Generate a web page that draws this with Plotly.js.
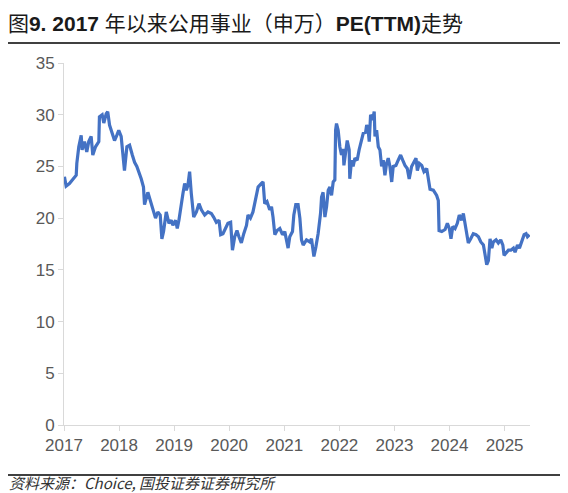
<!DOCTYPE html>
<html>
<head>
<meta charset="utf-8">
<script src="https://cdn.plot.ly/plotly-3.0.1.min.js"></script>
<style>
  html, body { margin: 0; padding: 0; background: #fff; }
  #chart { width: 568px; height: 493px; }
</style>
</head>
<body>
<div id="chart"></div>
<script>
// 公用事业（申万）PE(TTM)
const dates = [
  '2017-01-04','2017-01-15','2017-02-06','2017-02-28','2017-03-23','2017-03-27','2017-04-09','2017-04-25',
  '2017-05-01','2017-05-17','2017-06-01','2017-06-14','2017-06-30','2017-07-11','2017-07-29','2017-08-20',
  '2017-08-24','2017-09-11','2017-09-22','2017-10-08','2017-10-18','2017-10-30','2017-11-17','2017-12-02',
  '2017-12-17','2017-12-30','2018-01-15','2018-01-31','2018-02-06','2018-02-22','2018-03-12','2018-03-30',
  '2018-04-14','2018-04-29','2018-05-12','2018-05-28','2018-06-12','2018-06-19','2018-07-11','2018-08-03',
  '2018-08-18','2018-08-31','2018-09-15','2018-10-01','2018-10-12','2018-10-23','2018-11-10','2018-11-28',
  '2018-12-13','2018-12-24','2019-01-11','2019-01-22','2019-02-02','2019-02-18','2019-03-01','2019-03-12',
  '2019-03-23','2019-04-03','2019-04-14','2019-04-25','2019-05-11','2019-05-29','2019-06-15','2019-07-01',
  '2019-07-23','2019-08-14','2019-09-05','2019-09-20','2019-10-08','2019-10-26','2019-11-06','2019-11-21',
  '2019-12-02','2019-12-24','2020-01-11','2020-01-23','2020-02-07','2020-02-22','2020-03-06','2020-03-22',
  '2020-04-07','2020-04-25','2020-05-05','2020-05-21','2020-06-07','2020-06-25','2020-07-11','2020-08-02',
  '2020-08-13','2020-08-24','2020-09-08','2020-09-26','2020-10-08','2020-10-18','2020-10-30','2020-11-14',
  '2020-12-02','2020-12-20','2021-01-04','2021-01-15','2021-01-26','2021-02-06','2021-02-24','2021-03-05',
  '2021-03-18','2021-04-02','2021-04-14','2021-04-25','2021-05-06','2021-05-28','2021-06-19','2021-06-30',
  '2021-07-16','2021-07-29','2021-08-13','2021-08-29','2021-09-05','2021-09-15','2021-09-27','2021-10-08',
  '2021-10-19','2021-10-30','2021-11-10','2021-11-21','2021-12-02','2021-12-07','2021-12-13','2021-12-24',
  '2022-01-04','2022-01-15','2022-01-26','2022-01-31','2022-02-13','2022-02-22','2022-03-07','2022-03-11',
  '2022-03-23','2022-04-02','2022-04-14','2022-04-29','2022-05-12','2022-05-28','2022-06-08','2022-06-24',
  '2022-07-01','2022-07-11','2022-07-18','2022-07-27','2022-08-10','2022-08-20','2022-08-25','2022-09-05',
  '2022-09-16','2022-09-27','2022-10-08','2022-10-19','2022-10-30','2022-11-10','2022-11-21','2022-12-02',
  '2022-12-14','2022-12-24','2023-01-11','2023-01-26','2023-02-11','2023-02-25','2023-03-12','2023-03-27',
  '2023-04-09','2023-04-25','2023-05-11','2023-05-24','2023-06-02','2023-06-15','2023-07-01','2023-07-16',
  '2023-08-03','2023-08-14','2023-08-25','2023-09-16','2023-10-08','2023-10-19','2023-10-24','2023-11-11',
  '2023-12-03','2023-12-18','2023-12-31','2024-01-11','2024-01-23','2024-02-07','2024-02-22','2024-03-06',
  '2024-03-22','2024-04-02','2024-04-13','2024-04-25','2024-05-05','2024-05-21','2024-06-07','2024-06-25',
  '2024-07-11','2024-07-27','2024-08-13','2024-08-26','2024-09-04','2024-09-15','2024-09-26','2024-10-08',
  '2024-10-18','2024-11-05','2024-11-20','2024-12-06','2024-12-20','2024-12-28','2025-01-11','2025-01-26',
  '2025-02-11','2025-02-28','2025-03-11','2025-03-27','2025-04-09','2025-04-25','2025-05-10','2025-05-23',
  '2025-06-01','2025-06-14'
];
const pe = [
  24.0, 23.1, 23.35, 23.8, 24.15, 25.3, 26.9, 28.0,
  26.6, 27.4, 26.4, 27.4, 27.9, 26.1, 26.9, 27.4,
  29.8, 30.0, 29.2, 30.1, 30.3, 29.0, 28.3, 27.5,
  28.0, 28.5, 27.9, 25.8, 24.6, 26.9, 27.05, 26.1,
  25.4, 25.0, 24.5, 23.8, 23.0, 21.3, 22.5, 21.4,
  20.8, 20.0, 20.6, 20.3, 18.0, 18.7, 20.6, 19.5,
  19.8, 19.3, 19.8, 19.0, 19.8, 21.1, 22.4, 23.35,
  22.7, 23.2, 24.5, 22.4, 20.1, 20.6, 21.4, 20.8,
  20.3, 20.6, 20.45, 20.1, 19.6, 19.8, 18.4, 18.5,
  18.8, 19.5, 19.6, 16.9, 18.2, 18.8, 18.2, 17.6,
  18.5, 19.3, 20.3, 20.0, 20.6, 22.05, 23.0, 23.35,
  23.5, 21.4, 21.6, 20.8, 21.1, 20.1, 18.4, 18.8,
  19.0, 18.4, 18.7, 17.9, 17.1, 18.2, 18.7, 20.3,
  21.3, 21.3, 20.0, 17.9, 17.4, 17.9, 17.7, 18.0,
  16.3, 17.2, 18.5, 20.45, 22.05, 22.5, 20.1, 21.1,
  22.7, 23.0, 22.2, 23.5, 23.7, 28.5, 29.15, 28.5,
  26.9, 26.1, 26.7, 25.1, 26.9, 27.5, 26.6, 23.8,
  25.6, 25.0, 25.8, 25.6, 26.6, 27.7, 28.2, 28.3,
  29.0, 28.5, 27.4, 30.0, 29.5, 30.3, 27.9, 28.5,
  26.9, 26.6, 25.0, 25.6, 24.15, 25.3, 25.8, 25.0,
  23.5, 25.0, 25.1, 25.6, 26.1, 25.6, 25.1, 24.8,
  23.8, 25.0, 25.4, 25.8, 24.6, 25.3, 25.1, 24.5,
  24.8, 23.6, 22.8, 22.7, 22.2, 21.7, 18.8, 18.7,
  18.9, 19.5, 19.0, 18.0, 19.2, 19.0, 19.5, 20.3,
  19.8, 20.45, 19.6, 18.4, 17.6, 18.0, 18.5, 18.4,
  18.2, 17.7, 17.4, 16.3, 15.5, 15.9, 18.0, 17.1,
  17.7, 17.9, 17.6, 17.9, 17.4, 16.4, 16.7, 16.9,
  16.9, 17.1, 16.7, 17.4, 17.1, 17.9, 18.4, 18.5,
  18.2, 18.4
];
const yearTicks = ['2017','2018','2019','2020','2021','2022','2023','2024','2025'];

const axisGray = '#d9d9d9';
const labelFont = { family: '"Liberation Sans", Arial, sans-serif', size: 17, color: '#595959' };

const trace = {
  x: dates,
  y: pe,
  type: 'scatter',
  mode: 'lines',
  line: { color: '#4472C4', width: 3.2 },
  hoverinfo: 'x+y'
};

const layout = {
  width: 568,
  height: 493,
  margin: { l: 64, r: 38, t: 63, b: 68 },
  paper_bgcolor: '#fff',
  plot_bgcolor: '#fff',
  showlegend: false,
  title: {
    text: '图<b>9. 2017</b> 年以来公用事业（申万）<b>PE(TTM)</b>走势',
    font: { family: '"Liberation Sans", "Noto Sans CJK SC", sans-serif', size: 21, color: '#1a1a1a' },
    x: 0.014, xanchor: 'left',
    y: 0.952, yanchor: 'middle'
  },
  xaxis: {
    type: 'date',
    range: ['2017-01-01', '2025-06-18'],
    tickvals: yearTicks.map(y => y + '-01-01'),
    ticktext: yearTicks,
    showgrid: false,
    zeroline: false,
    showline: true, linecolor: axisGray, linewidth: 1,
    ticks: 'outside', ticklen: 5, tickcolor: axisGray,
    tickfont: labelFont
  },
  yaxis: {
    range: [0, 35],
    dtick: 5,
    showgrid: false,
    zeroline: false,
    showline: true, linecolor: axisGray, linewidth: 1,
    ticks: 'outside', ticklen: 5, tickcolor: axisGray,
    tickfont: labelFont
  },
  shapes: [
    // rule under the title
    { type: 'line', xref: 'paper', yref: 'paper', x0: -0.1202, x1: 1.0644, y0: 1.0552, y1: 1.0552,
      line: { color: '#000', width: 1.5 } },
    // rule above the source note
    { type: 'line', xref: 'paper', yref: 'paper', x0: -0.1202, x1: 1.0644, y0: -0.1381, y1: -0.1381,
      line: { color: '#000', width: 1.5 } }
  ],
  annotations: [
    { text: '<i>资料来源：Choice, 国投证券证券研究所</i>',
      xref: 'paper', yref: 'paper', x: -0.1202, y: -0.1588, xanchor: 'left', yanchor: 'middle',
      showarrow: false, borderpad: 0,
      font: { family: '"Noto Sans CJK SC", "Liberation Mono", sans-serif', size: 15, color: '#333' } }
  ]
};

Plotly.newPlot('chart', [trace], layout, { displayModeBar: false, staticPlot: true });
</script>
</body>
</html>
